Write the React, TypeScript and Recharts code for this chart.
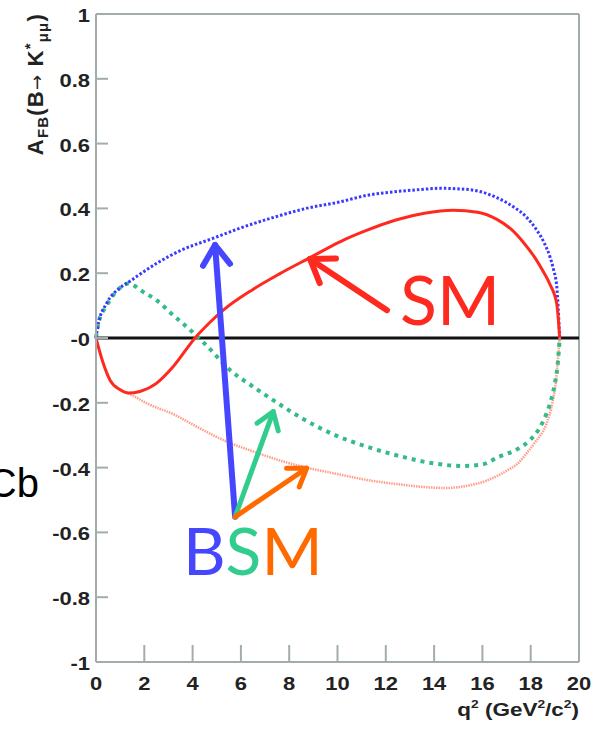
import React from 'react';
import { LineChart, Line, XAxis, YAxis, ReferenceLine, ReferenceDot, Label } from 'recharts';

// ---- data ----
const SM_Q = [0, 0.3, 0.58, 1.0, 1.34, 1.82, 2.5, 3.2, 4.1, 4.7, 5.27, 6.5, 7.6, 8.86, 10.1, 11.2, 12.45, 13.6, 14.8, 15.8, 16.6, 17.2, 17.7, 18.2, 18.52, 18.8, 19.08, 19.2];
const SM_V = [0, -0.078, -0.13, -0.16, -0.17, -0.165, -0.14, -0.088, 0, 0.047, 0.086, 0.15, 0.198, 0.248, 0.297, 0.332, 0.365, 0.385, 0.394, 0.388, 0.366, 0.335, 0.295, 0.245, 0.205, 0.165, 0.105, 0];

const BLUE_Q = [0, 0.1, 0.44, 1.0, 1.34, 2.5, 3.5, 4.86, 6.0, 7.48, 8.7, 10.1, 11.2, 12.45, 13.4, 14.24, 15.1, 15.9, 16.6, 17.28, 17.8, 18.25, 18.55, 18.8, 18.95, 19.08, 19.2];
const BLUE_V = [0, 0.045, 0.107, 0.155, 0.172, 0.23, 0.27, 0.308, 0.34, 0.375, 0.4, 0.42, 0.44, 0.452, 0.458, 0.462, 0.46, 0.452, 0.433, 0.405, 0.375, 0.333, 0.295, 0.25, 0.21, 0.158, 0];

const GREEN_Q = [0, 0.1, 0.44, 1.0, 1.34, 2.0, 2.5, 3.2, 3.9, 4.6, 5.55, 6.5, 7.4, 8.58, 9.97, 11.2, 12.6, 13.97, 15.2, 16.0, 16.7, 17.4, 17.97, 18.35, 18.66, 18.85, 19.0, 19.12, 19.2];
const GREEN_V = [0, 0.045, 0.1, 0.155, 0.168, 0.14, 0.117, 0.07, 0.025, -0.025, -0.099, -0.15, -0.195, -0.25, -0.302, -0.335, -0.365, -0.387, -0.395, -0.39, -0.366, -0.345, -0.315, -0.28, -0.232, -0.19, -0.14, -0.08, 0];

const PINK_Q = [0, 0.3, 0.58, 1.0, 1.34, 2.2, 3.2, 4.2, 5.27, 6.5, 8.03, 8.72, 10.0, 11.2, 12.7, 13.6, 14.5, 15.3, 16.18, 17.0, 17.5, 17.83, 18.2, 18.66, 18.9, 19.05, 19.2];
const PINK_V = [0, -0.078, -0.13, -0.16, -0.171, -0.205, -0.235, -0.275, -0.315, -0.35, -0.387, -0.4, -0.42, -0.438, -0.453, -0.46, -0.463, -0.457, -0.44, -0.41, -0.385, -0.356, -0.32, -0.263, -0.2, -0.13, 0];

const X_TICKS = [0, 2, 4, 6, 8, 10, 12, 14, 16, 18, 20];
const X_LABELS = ['0', '2', '4', '6', '8', '10', '12', '14', '16', '18', '20'];
const Y_TICKS = [-1, -0.8, -0.6, -0.4, -0.2, 0, 0.2, 0.4, 0.6, 0.8, 1];
const Y_LABELS = ['-1', '-0.8', '-0.6', '-0.4', '-0.2', '-0', '0.2', '0.4', '0.6', '0.8', '1'];

// annotation arrows: tail -> tip, in data coordinates
const ARROW_FROM_Q = [12.05, 5.76, 5.76, 5.76];
const ARROW_FROM_V = [0.086, -0.552, -0.552, -0.552];
const ARROW_TO_Q = [8.86, 4.93, 7.34, 8.72];
const ARROW_TO_V = [0.244, 0.287, -0.227, -0.402];
const ARROW_COLORS = ['#ff2a1f', '#4646ff', '#33cc8f', '#ff6a00'];
const ARROW_WIDTHS = [6, 6, 5, 5];
const ARROW_HEADS = [26, 24, 20, 20];

const toData = (qs: number[], vs: number[]) => qs.map((q, i) => ({ q, v: vs[i] }));
const smData = toData(SM_Q, SM_V);
const blueData = toData(BLUE_Q, BLUE_V);
const greenData = toData(GREEN_Q, GREEN_V);
const pinkData = toData(PINK_Q, PINK_V);

const AXIS = '#a3acac';
const TXT = '#222';
const FONT = '"Liberation Sans", Arial, sans-serif';
const STRETCH = 1.22;

const YTick = (props: any) => {
  const { x, y, payload } = props;
  const i = Y_TICKS.indexOf(payload.value);
  const label = i >= 0 ? Y_LABELS[i] : String(payload.value);
  const edge = payload.value === 1 || payload.value === -1;
  return (
    <g>
      {!edge && <line x1={x} x2={x + 12} y1={y} y2={y} stroke={AXIS} strokeWidth={2} />}
      <text
        transform={`translate(${x - 6},${y + 8}) scale(${STRETCH},1)`}
        textAnchor="end"
        fontFamily={FONT}
        fontWeight="bold"
        fontSize={18}
        fill={TXT}
      >
        {label}
      </text>
    </g>
  );
};

const XTick = (props: any) => {
  const { x, y, payload } = props;
  const i = X_TICKS.indexOf(payload.value);
  const label = i >= 0 ? X_LABELS[i] : String(payload.value);
  const edge = payload.value === 0 || payload.value === 20;
  return (
    <g>
      {!edge && <line x1={x} x2={x} y1={y} y2={y - 17} stroke={AXIS} strokeWidth={2} />}
      <text
        transform={`translate(${x},${y + 28}) scale(${STRETCH},1)`}
        textAnchor="middle"
        fontFamily={FONT}
        fontWeight="bold"
        fontSize={18}
        fill={TXT}
      >
        {label}
      </text>
    </g>
  );
};

const makeArrow = (color: string, w: number, head: number) => (props: any) => {
  const { x1, y1, x2, y2 } = props;
  const ang = Math.atan2(y2 - y1, x2 - x1);
  const spread = 0.6;
  const a1 = ang + Math.PI - spread;
  const a2 = ang + Math.PI + spread;
  const d = `M${x2 + head * Math.cos(a1)},${y2 + head * Math.sin(a1)} L${x2},${y2} L${x2 + head * Math.cos(a2)},${y2 + head * Math.sin(a2)}`;
  return (
    <g>
      <line x1={x1} y1={y1} x2={x2} y2={y2} stroke={color} strokeWidth={w} strokeLinecap="round" />
      <path d={d} fill="none" stroke={color} strokeWidth={w} strokeLinecap="round" strokeLinejoin="round" />
    </g>
  );
};

const SmText = (props: any) => {
  const { cx, cy } = props;
  return (
    <text x={cx} y={cy} fontFamily="Lato, 'Open Sans', sans-serif" fontSize={68} fill="#ff2a1f">
      SM
    </text>
  );
};

const BsmText = (props: any) => {
  const { cx, cy } = props;
  return (
    <text x={cx} y={cy} fontFamily="Lato, 'Open Sans', sans-serif" fontSize={66}>
      <tspan fill="#4646ff">B</tspan>
      <tspan fill="#33cc8f">S</tspan>
      <tspan fill="#ff6a00">M</tspan>
    </text>
  );
};

const XTitle = (props: any) => {
  const vb = props.viewBox || {};
  const x = (vb.x || 0) + (vb.width || 0);
  const y = (vb.y || 0) + 54;
  return (
    <text transform={`translate(${x},${y}) scale(1.25,1)`} textAnchor="end" fontFamily={FONT} fontWeight="bold" fontSize={18} fill={TXT}>
      q<tspan fontSize={11} dy={-8}>2</tspan>
      <tspan dy={8}> (GeV</tspan>
      <tspan fontSize={11} dy={-8}>2</tspan>
      <tspan dy={8}>/c</tspan>
      <tspan fontSize={11} dy={-8}>2</tspan>
      <tspan dy={8}>)</tspan>
    </text>
  );
};

export default function App() {
  return (
    <div style={{ position: 'absolute', left: 0, top: 0, width: 604, height: 730, background: '#fff' }}>
      <LineChart width={604} height={730} margin={{ top: 14, right: 25, bottom: 0, left: 0 }}>
        <XAxis
          dataKey="q"
          type="number"
          domain={[0, 20]}
          ticks={X_TICKS}
          height={68}
          tickSize={0}
          tickMargin={0}
          tickLine={false}
          axisLine={{ stroke: AXIS, strokeWidth: 2 }}
          tick={<XTick />}
          interval={0}
        >
          <Label content={<XTitle />} />
        </XAxis>
        <YAxis
          type="number"
          domain={[-1, 1]}
          ticks={Y_TICKS}
          width={96}
          tickSize={0}
          tickMargin={0}
          tickLine={false}
          axisLine={{ stroke: AXIS, strokeWidth: 2 }}
          tick={<YTick />}
          interval={0}
        />
        <ReferenceLine y={1} stroke={AXIS} strokeWidth={2} />
        <ReferenceLine x={20} stroke={AXIS} strokeWidth={2} />
        <ReferenceLine y={0} stroke="#111" strokeWidth={3} />
        <Line data={pinkData} dataKey="v" type="monotone" stroke="#ff9c8a" strokeWidth={2.5} strokeDasharray="1.5 1" dot={false} isAnimationActive={false} />
        <Line data={greenData} dataKey="v" type="monotone" stroke="#33bb88" strokeWidth={4} strokeDasharray="4 5" dot={false} isAnimationActive={false} />
        <Line data={blueData} dataKey="v" type="monotone" stroke="#3a3aff" strokeWidth={3} strokeDasharray="2.5 2" dot={false} isAnimationActive={false} />
        <Line data={smData} dataKey="v" type="monotone" stroke="#ff2a1f" strokeWidth={3} dot={false} isAnimationActive={false} />
        {ARROW_FROM_Q.map((fq, i) => (
          <ReferenceLine
            key={i}
            segment={[
              { x: fq, y: ARROW_FROM_V[i] },
              { x: ARROW_TO_Q[i], y: ARROW_TO_V[i] },
            ]}
            shape={makeArrow(ARROW_COLORS[i], ARROW_WIDTHS[i], ARROW_HEADS[i])}
          />
        ))}
        <ReferenceDot x={12.59} y={0.04} r={0} shape={<SmText />} />
        <ReferenceDot x={3.6} y={-0.731} r={0} shape={<BsmText />} />
      </LineChart>
      <svg width={604} height={730} style={{ position: 'absolute', left: 0, top: 0, pointerEvents: 'none' }}>
        <text transform="translate(43,13) rotate(-90)" textAnchor="end" fontFamily={FONT} fontWeight="bold" fontSize={22} letterSpacing={1.2} fill={TXT}>
          A<tspan fontSize={15} dy={5}>FB</tspan>
          <tspan dy={-5}>(B</tspan>
          <tspan fontFamily='"DejaVu Sans", sans-serif' fontWeight="normal" fontSize={18}>{'\u2192'}</tspan>
          <tspan> K</tspan>
          <tspan fontSize={15} dy={-8}>*</tspan>
          <tspan fontSize={15} dy={13}>μμ</tspan>
          <tspan dy={-5}>)</tspan>
        </text>
        <text x={39} y={497} textAnchor="end" fontFamily={FONT} fontSize={40} fill="#000">
          Cb
        </text>
      </svg>
    </div>
  );
}
